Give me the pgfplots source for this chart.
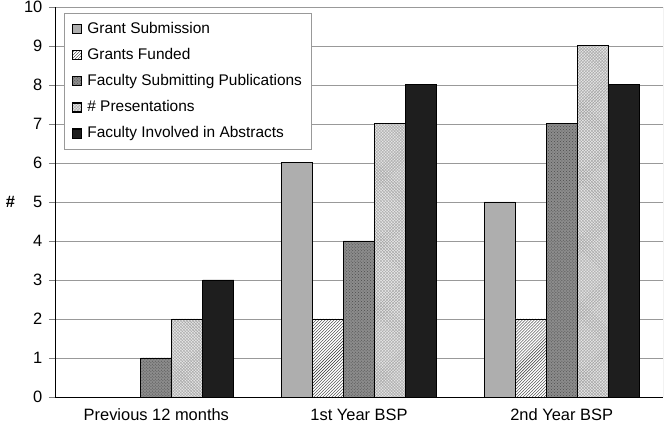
\documentclass[border=0pt]{standalone}
\usepackage{pgfplots}
\pgfplotsset{compat=1.18}
\usepackage{fontspec}
\setmainfont{Liberation Sans}
\usetikzlibrary{patterns}
\definecolor{gs}{HTML}{AEAEAE}
\definecolor{fs}{HTML}{8C8C8C}
\definecolor{pr}{HTML}{E6E6E6}
\definecolor{fa}{HTML}{1E1E1E}
\begin{document}
\fontsize{16.5}{18}\selectfont
\begin{tikzpicture}
\begin{axis}[
  name=ax,
  scale only axis,
  width=608bp, height=390bp,
  ybar=0pt, bar width=0.153,
  xmin=-0.5, xmax=2.5,
  ymin=0, ymax=10,
  ytick={0,...,10},
  xtick={0,1,2},
  xticklabels={Previous 12 months,1st Year BSP,2nd Year BSP},
  major x tick style={draw=none},
  extra x ticks={0.5,1.5,2.5},
  extra x tick labels={},
  extra x tick style={major tick length=4bp, tick style={black}, tick pos=left},
  tick align=outside,
  major tick length=6bp,
  axis x line*=bottom, axis y line*=left,
  axis line style={black, thick, -},
  ymajorgrids, grid style={gray!80, semithick},
  ylabel={\textbf{\#}},
  ylabel style={rotate=-90, at={(ticklabel cs:0.5)}, anchor=center, xshift=-8bp},
  every tick label/.append style={font=\fontsize{16.5}{18}\selectfont},
  /pgf/number format/assume math mode=true,
  xticklabel style={yshift=0bp},
  yticklabel style={xshift=-1bp},
  legend style={at={(rel axis cs:0.015,0.985)}, anchor=north west, draw=gray!80, thick, font=\fontsize{15.5}{18}\selectfont, row sep=8.5bp, inner xsep=7bp, inner ysep=7bp, cells={anchor=west}},
  legend cell align=left,
  area legend,
  legend image code/.code={\draw[#1, line width=1.2pt] (0cm,-0.16cm) rectangle (0.32cm,0.16cm); \path (0.45cm,0);},
  every axis plot/.append style={draw=black, line width=1pt},
]
\addplot[fill=gs] coordinates {(0,0) (1,6) (2,5)};
\addplot[fill=white, postaction={pattern=north east lines, pattern color=black!80}] coordinates {(0,0) (1,2) (2,2)};
\addplot[fill=fs, postaction={pattern=crosshatch dots, pattern color=black!70}] coordinates {(0,1) (1,4) (2,7)};
\addplot[fill=pr, postaction={pattern=crosshatch, pattern color=gray!70}] coordinates {(0,2) (1,7) (2,9)};
\addplot[fill=fa] coordinates {(0,3) (1,8) (2,8)};
\legend{Grant Submission, Grants Funded, Faculty Submitting Publications, \# Presentations, Faculty Involved in Abstracts}
\draw[gray!80, semithick] (rel axis cs:1,0) -- (rel axis cs:1,1);
\end{axis}
\pgfresetboundingbox
\path ([shift={(-55bp,-27bp)}]ax.south west) rectangle ([shift={(2bp,7bp)}]ax.north east);
\end{tikzpicture}
\end{document}
